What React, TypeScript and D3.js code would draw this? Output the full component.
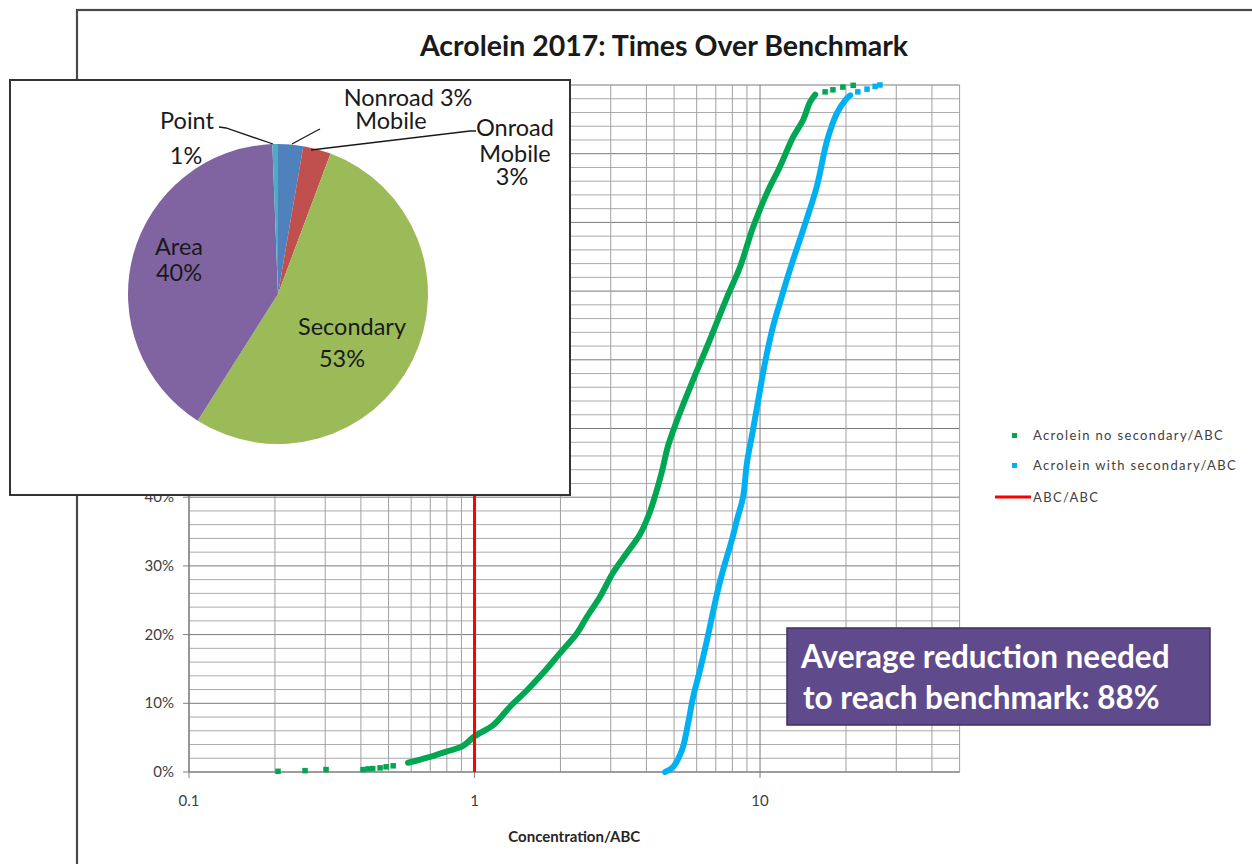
import React from "react";
import * as d3 from "d3";

// ---------- Data ----------
const pieCategories = ["Nonroad Mobile", "Onroad Mobile", "Secondary", "Area", "Point"];
const pieValues = [2.7, 3.0, 53.3, 40.4, 0.6];
const pieColors = ["#4F81BD", "#C0504D", "#9BBB59", "#8064A2", "#4BACC6"];

// Acrolein no secondary / ABC (cumulative %)
const greenConc = [0.585, 0.699, 0.801, 0.912, 1.0, 1.161, 1.331, 1.527, 1.738, 1.993, 2.285, 2.477, 2.752, 3.055, 3.42, 3.8, 4.1, 4.32, 4.55, 4.75, 5.1, 5.82, 6.52, 7.66, 8.51, 9.45, 10.58, 11.74, 13.05, 14.15, 14.96, 15.6];
const greenPct = [1.35, 2.2, 3.0, 3.8, 5.2, 6.8, 9.5, 11.9, 14.4, 17.3, 20.2, 22.6, 25.5, 29.0, 31.9, 34.6, 37.7, 40.6, 44.0, 47.3, 51.0, 57.0, 61.9, 69.1, 73.5, 79.3, 84.3, 88.1, 92.4, 94.9, 97.5, 98.6];
const greenTailConc = [0.205, 0.255, 0.302, 0.407, 0.424, 0.44, 0.467, 0.49, 0.519, 16.9, 18.0, 19.5, 21.2];
const greenTailPct = [0.1, 0.2, 0.35, 0.35, 0.45, 0.5, 0.6, 0.75, 0.9, 99.0, 99.3, 99.7, 99.95];

// Acrolein with secondary / ABC (cumulative %)
const blueConc = [4.65, 4.95, 5.33, 5.6, 5.83, 6.16, 6.52, 6.79, 7.12, 7.54, 7.97, 8.3, 8.72, 9.0, 9.45, 10.0, 10.4, 11.1, 11.74, 12.7, 14.15, 15.8, 17.2, 18.6, 19.9, 20.7];
const bluePct = [0, 0.7, 3.2, 7.1, 10.9, 14.8, 19.2, 22.6, 26.5, 30.4, 33.8, 36.7, 40.0, 45.0, 49.8, 55.6, 59.5, 64.8, 68.3, 73.0, 78.9, 85.2, 92.0, 95.9, 97.8, 98.5];
const blueTailConc = [22.0, 23.7, 25.3, 26.3];
const blueTailPct = [99.0, 99.4, 99.8, 100];

const benchmarkValue = [1];
const xTickValues = [0.1, 1, 10];
const xTickLabels = ["0.1", "1", "10"];
const yTickValues = [0, 10, 20, 30, 40, 50, 60, 70, 80, 90, 100];
const legendLabels = ["Acrolein no secondary/ABC", "Acrolein with secondary/ABC", "ABC/ABC"];
const seriesColors = ["#00A651", "#00B0F0", "#FF0000"];

const FONT = "Lato, 'Open Sans', sans-serif";

export default function App() {
  const W = 1252;
  const H = 864;
  const x = d3.scaleLog().domain([0.1, 50]).range([189, 959.6]);
  const y = d3.scaleLinear().domain([0, 100]).range([772, 85]);

  const xGrid = x.ticks();
  const yGrid = d3.range(0, 101, 2);

  const green = greenConc.map((c, i) => [c, greenPct[i]] as [number, number]);
  const greenTail = greenTailConc.map((c, i) => [c, greenTailPct[i]] as [number, number]);
  const blue = blueConc.map((c, i) => [c, bluePct[i]] as [number, number]);
  const blueTail = blueTailConc.map((c, i) => [c, blueTailPct[i]] as [number, number]);

  const line = d3
    .line<[number, number]>()
    .x((d) => x(d[0]))
    .y((d) => y(d[1]))
    .curve(d3.curveCatmullRom.alpha(0.5));

  const pie = d3.pie<number>().sort(null).startAngle(0).endAngle(2 * Math.PI)(pieValues);
  const arc = d3.arc<d3.PieArcDatum<number>>().innerRadius(0).outerRadius(150);
  const pcx = 278;
  const pcy = 294;

  const ms = 5.5;
  const markers = (pts: [number, number][], color: string) =>
    pts.map((d, i) => (
      <rect key={i} x={x(d[0]) - ms / 2} y={y(d[1]) - ms / 2} width={ms} height={ms} fill={color} />
    ));

  return (
    <div style={{ position: "absolute", left: 0, top: 0 }}>
      <svg width={W} height={H} style={{ display: "block" }} fontFamily={FONT}>
        <rect x={0} y={0} width={W} height={H} fill="#fff" />
        {/* chart area frame */}
        <rect x={77} y={10} width={1300} height={1000} fill="#fff" stroke="#4a4a4a" strokeWidth={2.2} />

        {/* title */}
        <text x={664} y={56} textAnchor="middle" fontSize={28.5} fontWeight="bold" fill="#1a1a1a">
          Acrolein 2017: Times Over Benchmark
        </text>

        {/* gridlines */}
        <g>
          {yGrid.map((v) => (
            <line
              key={"h" + v}
              x1={x(0.1)}
              x2={x(50)}
              y1={y(v)}
              y2={y(v)}
              stroke={v % 10 === 0 ? "#7a7a7a" : "#ababab"}
              strokeWidth={1}
            />
          ))}
          {xGrid.map((v, i) => {
            const isMajor = Math.abs(Math.log10(v) - Math.round(Math.log10(v))) < 1e-9;
            return (
              <line
                key={"v" + i}
                x1={x(v)}
                x2={x(v)}
                y1={y(0)}
                y2={y(100)}
                stroke={isMajor ? "#7a7a7a" : "#a0a0a0"}
                strokeWidth={1}
              />
            );
          })}
        </g>

        {/* axes */}
        <line x1={x(0.1)} x2={x(0.1)} y1={y(0)} y2={y(100)} stroke="#7f7f7f" strokeWidth={1.2} />
        <line x1={x(0.1)} x2={x(50)} y1={y(0)} y2={y(0)} stroke="#7f7f7f" strokeWidth={1.2} />
        {yTickValues.map((v) => (
          <g key={"yt" + v}>
            <line x1={x(0.1) - 6} x2={x(0.1)} y1={y(v)} y2={y(v)} stroke="#7f7f7f" />
            <text x={x(0.1) - 15} y={y(v) + 5} textAnchor="end" fontSize={15} fill="#404040">
              {v + "%"}
            </text>
          </g>
        ))}
        {xTickValues.map((v, i) => (
          <g key={"xt" + v}>
            <line x1={x(v)} x2={x(v)} y1={y(0)} y2={y(0) + 6} stroke="#7f7f7f" />
            <text x={x(v)} y={y(0) + 34} textAnchor="middle" fontSize={15} fill="#404040">
              {xTickLabels[i]}
            </text>
          </g>
        ))}
        <text x={(x(0.1) + x(50)) / 2} y={842} textAnchor="middle" fontSize={15} fontWeight="bold" fill="#262626">
          Concentration/ABC
        </text>

        {/* series */}
        <path d={line(green) || ""} fill="none" stroke={seriesColors[0]} strokeWidth={6} strokeLinejoin="round" strokeLinecap="round" />
        {markers(greenTail, seriesColors[0])}
        <path d={line(blue) || ""} fill="none" stroke={seriesColors[1]} strokeWidth={6} strokeLinejoin="round" strokeLinecap="round" />
        {markers(blueTail, seriesColors[1])}
        {benchmarkValue.map((b) => (
          <line key={"b" + b} x1={x(b)} x2={x(b)} y1={y(0)} y2={y(100)} stroke={seriesColors[2]} strokeWidth={3} />
        ))}

        {/* legend */}
        <g fontSize={13} fill="#404040" letterSpacing={1.35}>
          <rect x={1012} y={433} width={5} height={5} fill={seriesColors[0]} />
          <text x={1033} y={440}>{legendLabels[0]}</text>
          <rect x={1012} y={463} width={5} height={5} fill={seriesColors[1]} />
          <text x={1033} y={470}>{legendLabels[1]}</text>
          <line x1={995} x2={1031} y1={497} y2={497} stroke={seriesColors[2]} strokeWidth={3} />
          <text x={1033} y={502}>{legendLabels[2]}</text>
        </g>

        {/* annotation box */}
        <rect x={787} y={628} width={423} height={97} fill="#5F4B8B" stroke="#3e3063" strokeWidth={1.5} />
        <text x={801} y={668} fontSize={31.5} fontWeight="bold" fill="#ffffff">
          Average reduction needed
        </text>
        <text x={803} y={709} fontSize={31.5} fontWeight="bold" fill="#ffffff">
          to reach benchmark: 88%
        </text>

        {/* pie inset */}
        <rect x={10} y={80} width={560} height={415} fill="#fff" stroke="#333" strokeWidth={2} />
        <g transform={`translate(${pcx},${pcy})`}>
          {pie.map((p, i) => (
            <path key={pieCategories[i]} d={arc(p) || ""} fill={pieColors[i]} />
          ))}
        </g>
        <g fontSize={23.5} fill="#1a1a1a" textAnchor="middle">
          <text x={179} y={255}>Area</text>
          <text x={179} y={281}>{Math.round(pieValues[3]) + "%"}</text>
          <text x={352} y={335}>Secondary</text>
          <text x={342} y={367}>{Math.round(pieValues[2]) + "%"}</text>
          <text x={187} y={129}>Point</text>
          <text x={186} y={164}>{Math.round(pieValues[4]) + "%"}</text>
          <text x={408} y={106}>{"Nonroad " + Math.round(pieValues[0]) + "%"}</text>
          <text x={391} y={129}>Mobile</text>
          <text x={515} y={136}>Onroad</text>
          <text x={515} y={162}>Mobile</text>
          <text x={512} y={185}>{Math.round(pieValues[1]) + "%"}</text>
        </g>
        <g stroke="#1a1a1a" strokeWidth={1.3} fill="none">
          <polyline points="219,127 226,128 273,144" />
          <polyline points="292,144 316,131 320,129" />
          <polyline points="311,150 470,131 476,131" />
        </g>
      </svg>
    </div>
  );
}
